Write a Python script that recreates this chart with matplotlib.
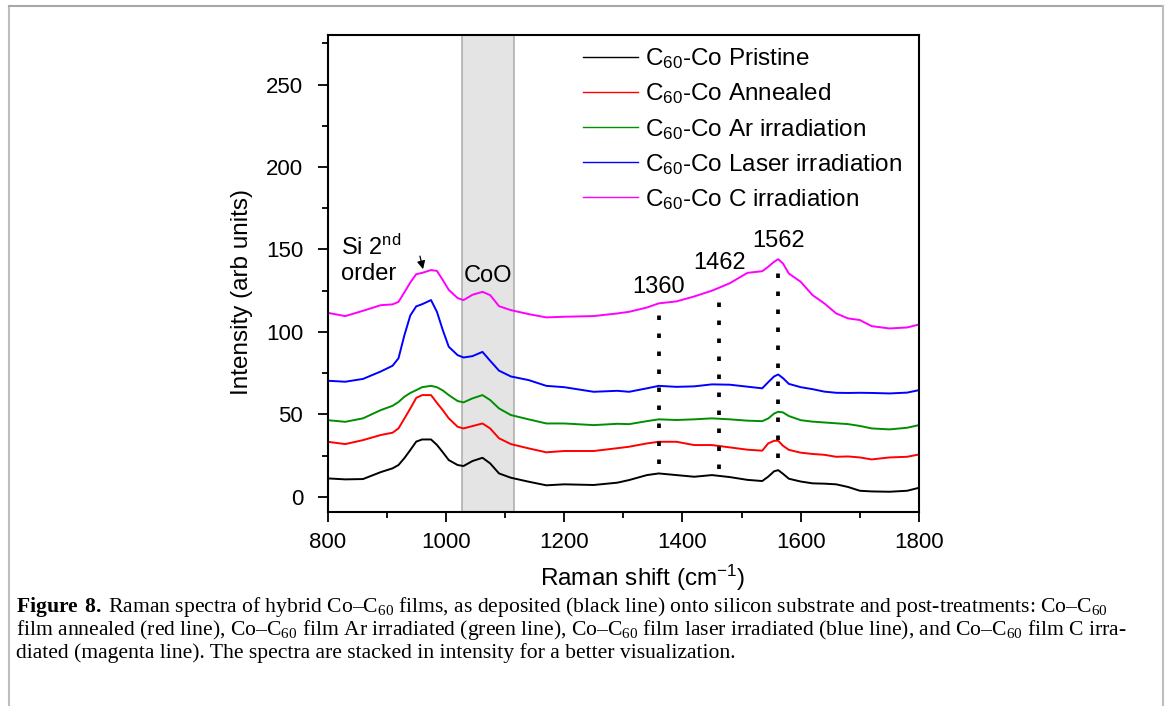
import numpy as np
import matplotlib
matplotlib.use("Agg")
import matplotlib.pyplot as plt
from matplotlib.ticker import MultipleLocator
from matplotlib.lines import Line2D

plt.rcParams['font.family'] = ['Liberation Sans', 'DejaVu Sans']
plt.rcParams['mathtext.fontset'] = 'custom'
plt.rcParams['mathtext.bf'] = 'Liberation Serif:bold'
plt.rcParams['mathtext.default'] = 'regular'

# Raman shift grid (cm-1)
shift = [800, 830, 860, 890, 910, 920, 930, 940, 950, 960, 975, 985, 995, 1005, 1020,
         1030, 1045, 1062, 1075, 1090, 1110, 1140, 1170, 1200, 1250, 1290, 1310, 1340,
         1360, 1390, 1420, 1450, 1480, 1510, 1535, 1545, 1555, 1562, 1570, 1580, 1600,
         1620, 1640, 1660, 1680, 1700, 1720, 1750, 1780, 1800]

pristine = [11.2, 10.6, 10.8, 15, 17.3, 19.3, 23.5, 28.4, 33.5, 34.8, 34.8, 31.5, 27, 22.3, 19.3,
            18.7, 21.7, 23.7, 20.3, 14.2, 11.6, 9.2, 7, 7.6, 7.2, 8.6, 10.2, 13.2,
            14.2, 13.2, 12.2, 13.2, 12, 10.3, 9.6, 12.2, 15.5, 16.2, 14, 11, 9.3,
            8.2, 8, 7.6, 6, 3.7, 3.3, 3.1, 3.7, 5.5]
annealed = [33.4, 32, 34.4, 37.5, 38.9, 41.5, 47.5, 53.6, 60, 61.7, 61.7, 57, 52.5, 47.6, 42.5,
            41.5, 42.9, 44.5, 41.5, 35.5, 32, 29.4, 27, 27.8, 27.8, 29.5, 30.4, 32.4,
            33.4, 33.4, 31.4, 31.4, 30, 28.6, 28, 32.4, 34, 34, 31, 28.5, 26.8,
            26, 25.5, 24.3, 24.5, 23.9, 22.7, 23.9, 24.3, 25.7]
ar_irr = [46.5, 45.5, 47.6, 52.6, 55.2, 57.5, 60.7, 63, 64.7, 66.5, 67.3, 66.5, 64.5, 61.7, 58.1,
          57.3, 59.7, 61.7, 58.7, 53.6, 49.6, 47, 44.5, 44.5, 43.5, 44.3, 44.1, 45.9,
          47, 46.6, 47, 47.6, 47, 46.2, 45.9, 47.5, 50.5, 51.6, 51.2, 49, 46.5,
          45.6, 45.1, 44.6, 44.1, 43, 41.5, 40.9, 41.9, 43.5]
laser_irr = [70.4, 69.8, 71.5, 76, 79.5, 84, 98, 110, 115.5, 116.8, 119.3, 112.2, 101, 91, 85.9,
             84.5, 85.3, 87.9, 82.5, 76.5, 73, 70.8, 67.3, 66.5, 63.7, 64.3, 63.7, 65.8,
             67.3, 66.7, 67, 68.2, 68, 66.8, 65.8, 69.5, 73, 74.2, 72, 68.5, 66.5,
             65.3, 63.8, 63.1, 63, 63.1, 63, 62.7, 63.2, 64.7]
c_irr = [111.6, 109.6, 112.8, 116.2, 116.7, 118.2, 124, 130, 135, 135.8, 137.5, 137, 131.4, 125.5, 120.5,
         119.3, 122.5, 124.3, 122.3, 115.6, 113.2, 110.8, 108.8, 109.2, 109.6, 111.2, 112.2, 114.8,
         117.3, 118.5, 121.5, 125, 129.5, 135.8, 136.8, 139.5, 142.5, 144.1, 141.5, 135.4, 130.4,
         122.3, 117.3, 111.2, 108.2, 107.2, 103.5, 102.1, 102.7, 104.5]

series = [pristine, annealed, ar_irr, laser_irr, c_irr]
labels = ["C$_{60}$-Co Pristine", "C$_{60}$-Co Annealed", "C$_{60}$-Co Ar irradiation",
          "C$_{60}$-Co Laser irradiation", "C$_{60}$-Co C irradiation"]
colors = ["black", "#ff0000", "#008f00", "#0000ff", "#ff00ff"]

# marked peaks: position, top and bottom of the dotted line, label height
peaks = [1360, 1462, 1562]
peak_top = [116, 122, 139.5]
peak_bottom = [20, 17, 23.5]
peak_label_y = [127, 141.5, 155]
coo_band = (1028, 1115)

fig = plt.figure(figsize=(11.68, 7.06), dpi=100)
ax = fig.add_axes([0.2804, 0.2752, 0.5064, 0.6752])

ax.axvspan(*coo_band, facecolor="#e4e4e4", edgecolor="#b0b0b0", lw=1.2, zorder=0)

for y, lab, c in zip(series, labels, colors):
    ax.plot(shift, y, color=c, lw=1.4, label=lab)

for p, t, b, ly in zip(peaks, peak_top, peak_bottom, peak_label_y):
    ax.plot([p, p], [b, t], color="black", lw=2.7, linestyle=(0, (1.2, 3.6)))
    ax.text(p, ly, str(p), ha="center", va="center", fontsize=17)

ax.text(822.8, 131.7, "Si 2$^{nd}$\norder", fontsize=17, va="baseline", ha="left", linespacing=1.15)
ax.annotate("", xy=(962.6, 136.4), xytext=(955.2, 147.6),
            arrowprops=dict(arrowstyle="-|>", color="black", lw=0.9, mutation_scale=12))
ax.text(1071, 134, "CoO", ha="center", va="center", fontsize=17)

ax.set_xlim(800, 1800)
ax.set_ylim(-9, 280)
ax.xaxis.set_major_locator(MultipleLocator(200))
ax.xaxis.set_minor_locator(MultipleLocator(100))
ax.yaxis.set_major_locator(MultipleLocator(50))
ax.yaxis.set_minor_locator(MultipleLocator(25))
ax.tick_params(which="major", length=7.5, width=1.3, labelsize=16)
ax.tick_params(axis="y", which="major", pad=10)
ax.tick_params(axis="x", which="major", pad=7)
ax.tick_params(which="minor", length=4, width=1.3)
for s in ax.spines.values():
    s.set_linewidth(1.5)

ax.set_xlabel("Raman shift (cm$^{-1}$)", fontsize=17.5)
ax.set_ylabel("Intensity (arb units)", fontsize=17.5)
ax.xaxis.set_label_coords(0.532, -0.108)
ax.yaxis.set_label_coords(-0.126, 0.46)

leg = ax.legend(loc="upper left", bbox_to_anchor=(0.432, 0.976), frameon=False,
                fontsize=17.5, handlelength=2.26, handletextpad=0.29,
                labelspacing=0.42, borderpad=0, borderaxespad=0)
for h in leg.get_lines():
    h.set_linewidth(1.0)

# caption
cap = [r"$\mathbf{Figure\ 8.}\,$Raman spectra of hybrid Co–C$_{60}$ films, as deposited (black line) onto silicon substrate and post-treatments: Co–C$_{60}$",
       "film annealed (red line), Co–C$_{60}$ film Ar irradiated (green line), Co–C$_{60}$ film laser irradiated (blue line), and Co–C$_{60}$ film C irra-",
       "diated (magenta line). The spectra are stacked in intensity for a better visualization."]
for i, line in enumerate(cap):
    fig.text(16 / 1168, 1 - (607 + 23 * i) / 706, line, fontsize=15.6,
             family="Liberation Serif", va="center", ha="left")

# page frame
frame_c = "#bdbdbd"
fig.add_artist(Line2D([9 / 1168, 9 / 1168], [0, 1 - 6 / 706], color=frame_c, lw=1.5))
fig.add_artist(Line2D([9 / 1168, 1163 / 1168], [1 - 6 / 706, 1 - 6 / 706], color="#a8a8a8", lw=1.5))
fig.add_artist(Line2D([1163 / 1168, 1163 / 1168], [0, 1 - 6 / 706], color=frame_c, lw=1.5))

fig.savefig("out.png", dpi=100)
